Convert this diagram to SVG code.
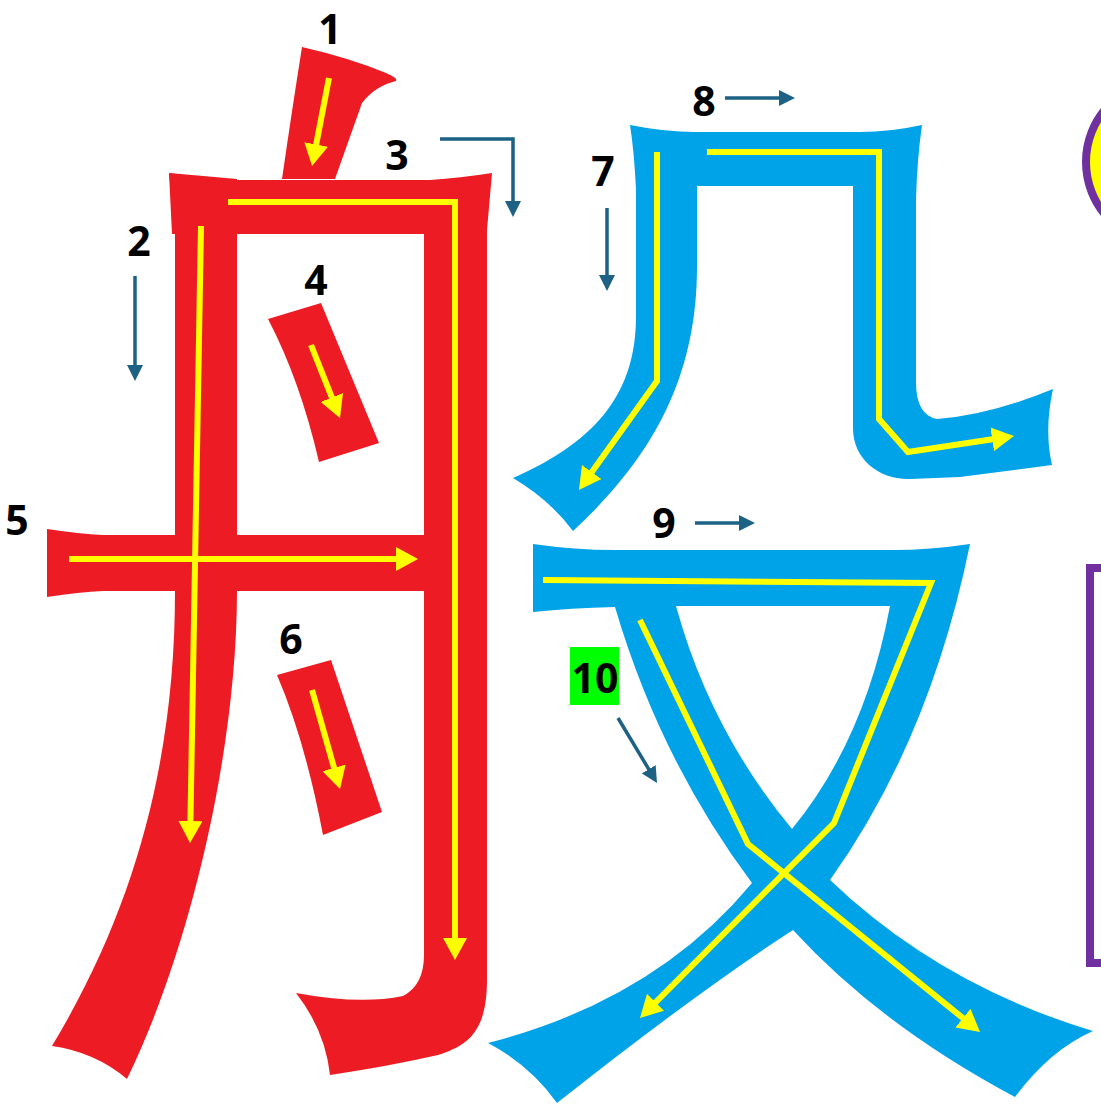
<svg xmlns="http://www.w3.org/2000/svg" width="1101" height="1110" viewBox="0 0 1101 1110">
<style>
.red{fill:#ED1C24}
.blue{fill:#00A3E8}
.yl{fill:none;stroke:#FFFF00;stroke-width:6;stroke-linejoin:miter;marker-end:url(#ya)}
.tl{fill:none;stroke:#1D6184;stroke-width:3.5;marker-end:url(#ta)}
.num{font-family:"Open Sans","DejaVu Sans",sans-serif;font-weight:bold;font-size:41px;fill:#000;text-anchor:middle}
</style>
<defs>
<marker id="ya" viewBox="0 0 22 24" refX="2" refY="12" markerWidth="22" markerHeight="24" markerUnits="userSpaceOnUse" orient="auto"><path d="M0,0 L22,12 L0,24 z" fill="#FFFF00"/></marker>
<marker id="ta" viewBox="0 0 16 16" refX="1" refY="8" markerWidth="16" markerHeight="16" markerUnits="userSpaceOnUse" orient="auto"><path d="M0,0 L16,8 L0,16 z" fill="#1D6184"/></marker>
</defs>
<rect width="1101" height="1110" fill="#fff"/>

<g id="stroke1"><path class="red" d="M302,47 Q350,58 386,73 Q398,78 396,81 Q375,86 362,103 L335,179 L282,179 Q292,110 302,47 Z"/></g>
<g id="stroke2"><path class="red" d="M169,173 L237,179 L237,591 C237,750 190,950 127,1079 Q95,1052 52,1046 C140,900 175,750 175,591 L175,230 Z"/></g>
<g id="stroke3"><path class="red" d="M169,173 Q205,179 238,180 L430,180 Q460,178 492,173 L487,230 L487,979 C487,1030 470,1045 438,1055 Q390,1066 330,1075 Q325,1030 296,993 Q360,1005 403,996 Q424,985 424,955 L424,234 L172,234 Z"/></g>
<g id="stroke4"><path class="red" d="M268,319 L321,303 L379,443 L319,462 Q300,380 268,319 Z"/></g>
<g id="stroke5"><path class="red" d="M47,529 Q80,534 103,535 L430,535 L430,591 L103,591 Q80,592 47,597 Z"/></g>
<g id="stroke6"><path class="red" d="M277,675 L331,660 L382,812 L323,835 Q305,740 277,675 Z"/></g>

<g id="strokes78"><path class="blue" d="M630,125 Q665,132 695,132 L860,132 Q890,132 922,125 Q917,160 916,200 L916,382 Q916,415 937,419 Q990,415 1053,389 Q1044,430 1052,465 L960,477 L910,479 C880,480 853,460 853,428 L853,186 L697,186 L697,267 C697,380 650,460 573,531 Q550,500 513,478 C600,440 636,390 636,316 L636,189 Q634,150 630,125 Z"/></g>
<g id="strokes910"><path class="blue" fill-rule="evenodd" d="M533,544 Q575,550 615,550 L892,550 Q930,550 970,544 Q930,740 830,880 Q940,985 1093,1031 Q1050,1050 1015,1097 Q880,1025 793,930 Q700,990 557,1103 Q530,1065 488,1043 Q655,1000 752,883 Q660,760 615,607 Q570,608 533,612 Z M676,606 L890,606 Q865,740 792,829 Q710,730 676,606 Z"/></g>

<g id="connectors">
<path class="yl" d="M329,78 L315.8,146.4"/>
<path class="yl" d="M201,226 L190.4,823"/>
<path class="yl" d="M228,202 H455 V940"/>
<path class="yl" d="M311,345 L332.6,399.4"/>
<path class="yl" d="M69,559 H398"/>
<path class="yl" d="M312,690 L334.6,769.8"/>
<path class="yl" d="M657,152 V381 L590.6,473.7"/>
<path class="yl" d="M707,152 H879 V419 L908,452 L994.2,439"/>
<path class="yl" d="M543,580 L931,583 L834,823 L654.1,1003.8"/>
<path class="yl" d="M640,620 L748,844 L964.5,1019.4"/>
<path class="tl" d="M135,276 V366"/>
<path class="tl" d="M440,139 H513 V202"/>
<path class="tl" d="M607,208 V276"/>
<path class="tl" d="M725,98 H780"/>
<path class="tl" d="M695,523 H740"/>
<path class="tl" d="M618,718 L649.3,770.1"/>
</g>

<g id="labels">
<text class="num" x="330" y="44">1</text>
<text class="num" x="139" y="256">2</text>
<text class="num" x="397" y="170">3</text>
<text class="num" x="316" y="295">4</text>
<text class="num" x="17" y="535">5</text>
<text class="num" x="291" y="654">6</text>
<text class="num" x="603" y="186">7</text>
<text class="num" x="704" y="116">8</text>
<text class="num" x="664" y="538">9</text>
<g id="label10"><rect x="570" y="647" width="49" height="58" fill="#00FF00"/><text class="num" x="595" y="693">10</text></g>
</g>

<g id="side">
<circle cx="1168" cy="162" r="82" fill="#FFFF00" stroke="#7030A0" stroke-width="8"/>
<rect x="1090" y="568" width="100" height="395" fill="#fff" stroke="#7030A0" stroke-width="8"/>
</g>
</svg>
